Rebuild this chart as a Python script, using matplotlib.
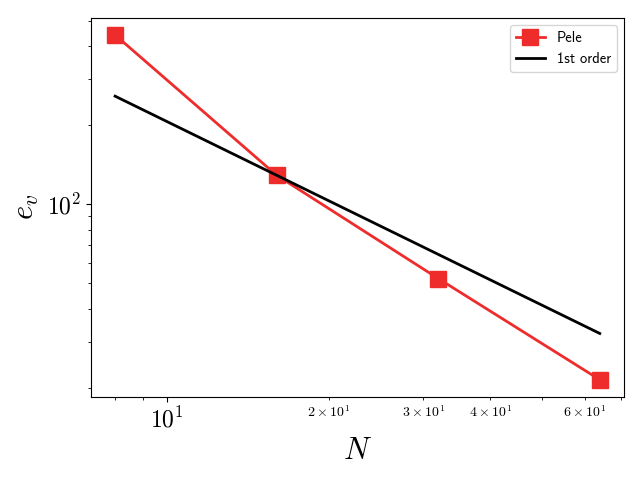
import numpy as np
import matplotlib
matplotlib.use("Agg")
import matplotlib.pyplot as plt

plt.rcParams['mathtext.fontset'] = 'cm'
plt.rcParams['font.family'] = 'serif'
plt.rcParams['font.serif'] = ['cmr10']
plt.rcParams['axes.formatter.use_mathtext'] = True

N = np.array([8, 16, 32, 64])
e_pele = np.array([441, 129, 52.2, 21.5])
# first order reference, anchored at N=16
e_first = e_pele[1] * N[1] / N

fig = plt.figure(figsize=(6.4, 4.8), dpi=100)
axes = fig.add_axes([0.142, 0.173, 0.833, 0.79])
axes.loglog(N, e_pele, 's-', color='#ee2c2c', lw=2, ms=11, label='Pele')
axes.loglog(N, e_first, 'k-', lw=2, label='1st order')

axes.set_xlabel('$N$', fontsize=22)
axes.set_ylabel('$e_v$', fontsize=22)
axes.tick_params(which='major', labelsize=17)
axes.tick_params(which='minor', labelsize=10)
axes.legend(loc=1, prop={'family': 'cmss10', 'size': 10.5})

fig.savefig("out.png")
